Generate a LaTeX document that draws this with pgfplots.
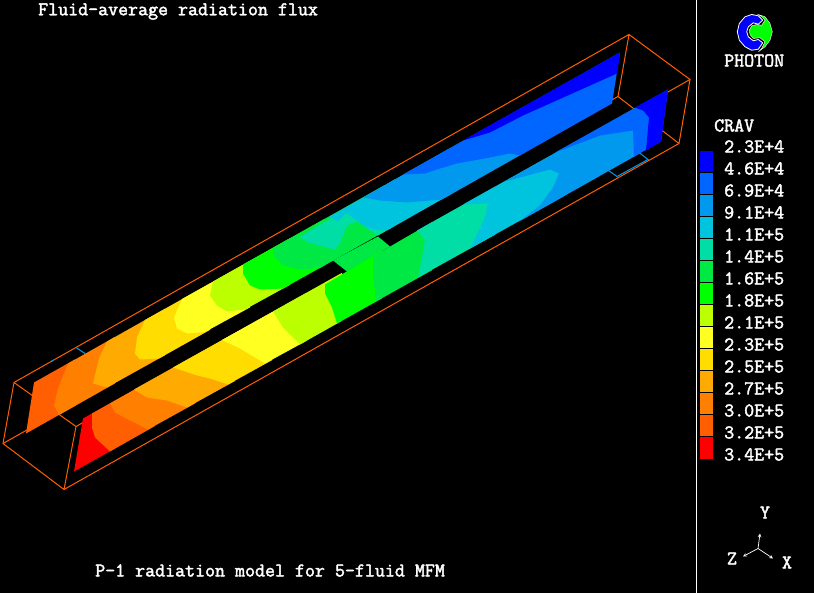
\documentclass[border=0pt]{standalone}
\usepackage{fontspec}
\newfontfamily\pf{Latin Modern Mono}[FakeBold=2.2]
\usepackage{pgfplots}
\pgfplotsset{compat=1.18}
\definecolor{c01}{HTML}{0000FF}
\definecolor{c02}{HTML}{0066FF}
\definecolor{c03}{HTML}{0099EE}
\definecolor{c04}{HTML}{00C4DD}
\definecolor{c05}{HTML}{00DDA5}
\definecolor{c06}{HTML}{00E844}
\definecolor{c07}{HTML}{00FF00}
\definecolor{c08}{HTML}{BBFF00}
\definecolor{c09}{HTML}{FFFF22}
\definecolor{c10}{HTML}{FFDD00}
\definecolor{c11}{HTML}{FFAA00}
\definecolor{c12}{HTML}{FF8000}
\definecolor{c13}{HTML}{FF5F00}
\definecolor{c14}{HTML}{FF0000}
\newcommand{\poly}[2]{\addplot[fill=#1,draw=none,mark=none,forget plot] coordinates {#2} --cycle;}
\newcommand{\seg}[2]{\addplot[color=#1,line width=1pt,mark=none,forget plot] coordinates {#2};}
\newcommand{\txt}[3][west]{\node[anchor=#1,inner sep=0pt,text=white,font=\fontsize{19.4}{20}\selectfont\pf] at (axis cs:#2) {#3};}
\begin{document}
\begin{tikzpicture}
\begin{axis}[
  width=814pt,height=592pt,scale only axis,
  xmin=0,xmax=814,ymin=0,ymax=592,y dir=reverse,
  enlargelimits=false,hide axis,clip=false]
% background
\poly{black}{(0,0)(814,0)(814,592)(0,592)}
% box frame
\seg{c13}{(14,382)(629,34)(690,79)(679,143)(618,96)(629,34)}
\seg{c13}{(14,382)(3,443)(64,489)(76,426)(14,382)}
\seg{c13}{(64,489)(679,143)}
\seg{c13}{(3,443)(618,96)}
\seg{c13}{(76,426)(690,79)}
\seg{c03}{(76,347)(85,353)}
\seg{c03}{(607,169)(617,176)(648,159)(639,152)}
\seg{c03}{(51,361)(53,360)}
% upper strip
\poly{c13}{(34,382)(75,358.9)(75,405.4)(26,433)}
\poly{c12}{(68,363)(58,388)(54,405)(59,414.5)(115,382.9)(115,336.4)}
\poly{c11}{(107,341)(99,358)(93,383)(107,387)(165,354.7)(165,308.2)}
\poly{c10}{(145,319.5)(137,337)(135,353)(140,359)(159,358)(210,329.4)(210,282.9)}
\poly{c09}{(182,298.5)(174,317)(177,328)(187,333)(205,331.5)(250,306.9)(250,260.4)}
\poly{c08}{(213,281)(210,295)(217,305)(227,311)(245,309)(290,284.3)(290,237.8)}
\poly{c07}{(243,264)(243,273)(250,285)(260,289)(283,288)(325,264.6)(325,218.1)}
\poly{c06}{(273,247.5)(273,255)(283,265)(300,269)(320,267.5)(385,230.8)(385,184.4)}
\poly{c06}{(333,260)(347,271)(390,246)(378,236)}
\poly{c05}{(300,236.5)(308,242)(335,249)(340,243)(347,225)(357,221)(378,235)(395,225.2)(395,178.7)}
\poly{c04}{(330,216)(338,221)(346,212)(368,228)(387,230)(450,194.2)(450,147.7)}
\poly{c03}{(363,197)(380,200)(407,202)(442,199)(525,152)(525,105.5)}
\poly{c02}{(403,174)(425,173)(440,168)(457,163)(490,157)(510,153)(520,155)(612,103)(620,52)}
\poly{c01}{(463,140)(490,132)(523,115)(617,73)(620,52)}
% lower strip
\poly{c14}{(83,418)(115,400)(115,448)(74,471)}
\poly{c13}{(92,413)(92,427)(95,437)(110,451)(155,425.5)(155,377.5)}
\poly{c12}{(110,403)(115,412)(130,420)(148,429)(195,403)(195,355)}
\poly{c11}{(134,389)(147,397)(167,400)(187,407)(235,380.5)(235,332.5)}
\poly{c10}{(173,367)(197,375)(210,378)(228,384)(272,359.7)(272,311.7)}
\poly{c09}{(222,339.5)(240,348)(265,363)(306,340.6)(306,292.6)}
\poly{c08}{(273,311)(283,327)(300,344)(342,320.3)(342,272.3)}
\poly{c07}{(325,284)(325,293)(332,307)(337,323)(382,297.8)(382,249.8)}
\poly{c06}{(347,271)(373,256)(373,273)(376,301)(432,269.7)(432,221.7)}
\poly{c05}{(417,230)(425,239)(422,257)(418,277)(495,234.3)(495,186.3)}
\poly{c04}{(463,204)(488,203)(485,217)(470,248)(565,195)(565,146.9)}
\poly{c03}{(505,181)(550,169)(559,173)(553,187)(540,205)(519,221)(640,152.8)(640,104.7)}
\poly{c02}{(555,152)(600,135)(633,130)(634,156)(661,141)(668,89)}
\poly{c01}{(635,107)(643,110)(649,117)(646,150)(661,141)(668,89)}
% divider
\seg{white}{(696.5,0)(696.5,592)}
% colour key
\poly{c01}{(700,151)(713,151)(713,172)(700,172)}
\poly{c02}{(700,173)(713,173)(713,194)(700,194)}
\poly{c03}{(700,195)(713,195)(713,216)(700,216)}
\poly{c04}{(700,217)(713,217)(713,238)(700,238)}
\poly{c05}{(700,239)(713,239)(713,260)(700,260)}
\poly{c06}{(700,261)(713,261)(713,282)(700,282)}
\poly{c07}{(700,283)(713,283)(713,304)(700,304)}
\poly{c08}{(700,305)(713,305)(713,326)(700,326)}
\poly{c09}{(700,327)(713,327)(713,348)(700,348)}
\poly{c10}{(700,349)(713,349)(713,370)(700,370)}
\poly{c11}{(700,371)(713,371)(713,392)(700,392)}
\poly{c12}{(700,393)(713,393)(713,414)(700,414)}
\poly{c13}{(700,415)(713,415)(713,436)(700,436)}
\poly{c14}{(700,437)(713,437)(713,458)(700,458)}
% logo
\addplot[fill=c07,draw=white,line width=0.4pt,mark=none,forget plot] coordinates {(758.3,14)(765,16.3)(770,23)(772.3,31.3)(770,39.7)(765,46.3)(758.3,51.3)(761.7,48)(765,41.3)(760,37.3)(753.3,38)(750,34)(749.3,29.7)(751.7,25.3)(756.7,24)(761.7,24.7)(765,19.7)(761.7,16.3)} --cycle;
\addplot[fill=c01,draw=white,line width=0.8pt,mark=none,forget plot] coordinates {(758.3,15.3)(751.7,14)(745,16.3)(739.3,23)(737.3,31.3)(739.3,39.7)(745,46.3)(751.7,49.7)(758.3,48.7)(762.7,42.3)(758.3,39)(753.3,40.3)(748.3,36.3)(746.7,31.3)(748.3,26.3)(753.3,22.3)(758.3,23.7)(762.7,19.7)} --cycle;
% triad
\addplot[white,line width=0.7pt,mark=none,forget plot,->,>=stealth] coordinates {(758,548)(760,533)};
\addplot[white,line width=0.7pt,mark=none,forget plot,->,>=stealth] coordinates {(758,548)(743,556)};
\addplot[white,line width=0.7pt,mark=none,forget plot,->,>=stealth] coordinates {(758,548)(773,558)};
% text
\txt{38,11}{Fluid-average radiation flux}
\txt{95,570}{P-1 radiation model for 5-fluid MFM}
\txt{724,60}{PHOTON}
\txt{714,125}{CRAV}
\txt{724,146}{2.3E+4}
\txt{724,168}{4.6E+4}
\txt{724,190}{6.9E+4}
\txt{724,212}{9.1E+4}
\txt{724,234}{1.1E+5}
\txt{724,256}{1.4E+5}
\txt{724,278}{1.6E+5}
\txt{724,300}{1.8E+5}
\txt{724,322}{2.1E+5}
\txt{724,344}{2.3E+5}
\txt{724,366}{2.5E+5}
\txt{724,388}{2.7E+5}
\txt{724,410}{3.0E+5}
\txt{724,432}{3.2E+5}
\txt{724,454}{3.4E+5}
\txt[center]{765,512}{Y}
\txt[center]{732,558}{Z}
\txt[center]{787,562}{X}
\end{axis}
\end{tikzpicture}
\end{document}
